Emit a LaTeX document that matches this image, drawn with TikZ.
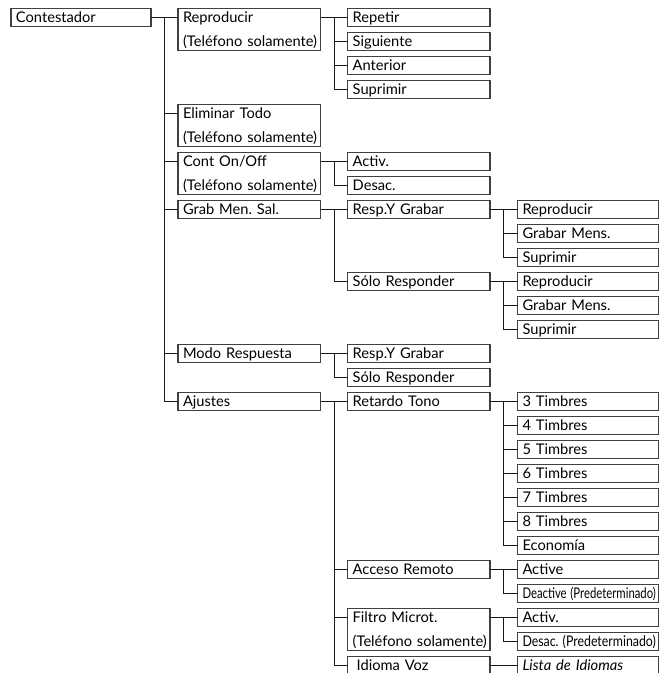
\documentclass[tikz,border=0pt]{standalone}
\usepackage{fontspec}
\usepackage{graphicx}
\setmainfont{Lato}[WordSpace=0.6]
\usetikzlibrary{calc}
\frenchspacing
\newcommand\st{\rule[-3.3pt]{0pt}{13.8pt}}
\newcommand\fitw[1]{\resizebox{100pt}{\height}{#1}}
\tikzset{
  box/.style={draw=black!75, line width=0.8pt, inner xsep=3.75pt, inner ysep=0pt,
    outer sep=0pt, anchor=north west, align=left,
    font=\fontsize{11pt}{18pt}\selectfont, minimum height=13.8pt},
  c0/.style={box, text width=97.5pt},
  c1/.style={box, text width=99.5pt},
  c2/.style={box, text width=99.2pt},
  c3/.style={box, text width=98.4pt},
  two/.style={minimum height=31.8pt},
  wire/.style={line width=0.75pt, black!90},
}
\newcommand\branch[3]{%
  \draw[wire] ($(#1.north east)+(0,9.2)$) -- ($(#2.north west)+(0,9.2)$);
  \foreach \c in {#3}{\draw[wire] ($(#1.north east)+(13.5,9.2)$) |- ($(\c.north west)+(0,9.2)$);}%
}
\begin{document}
\begin{tikzpicture}[x=0.75pt, y=-0.75pt]
\useasboundingbox (0,0) rectangle (660,673);
\clip (0,0) rectangle (660,673);
% column 0
\node[c0] (n0) at (11,8.3) {\st Contestador};
% column 1
\node[c1,two] (a1) at (178,8.3)   {\st Reproducir\\\st \mbox{(Teléfono solamente)}};
\node[c1,two] (a2) at (178,104.3) {\st Eliminar Todo\\\st \mbox{(Teléfono solamente)}};
\node[c1,two] (a3) at (178,152.3) {\st Cont On/Off\\\st \mbox{(Teléfono solamente)}};
\node[c1] (a4) at (178,200.3) {\st Grab Men. Sal.};
\node[c1] (a5) at (178,344.3) {\st Modo Respuesta};
\node[c1] (a6) at (178,392.3) {\st Ajustes};
% column 2
\node[c2] (b1) at (347.7,8.3)  {\st Repetir};
\node[c2] (b2) at (347.7,32.3) {\st Siguiente};
\node[c2] (b3) at (347.7,56.3) {\st Anterior};
\node[c2] (b4) at (347.7,80.3) {\st Suprimir};
\node[c2] (b5) at (347.7,152.3) {\st Activ.};
\node[c2] (b6) at (347.7,176.3) {\st Desac.};
\node[c2] (b7) at (347.7,200.3) {\st Resp.Y Grabar};
\node[c2] (b8) at (347.7,272.3) {\st Sólo Responder};
\node[c2] (b9) at (347.7,344.3) {\st Resp.Y Grabar};
\node[c2] (b10) at (347.7,368.3) {\st Sólo Responder};
\node[c2] (b11) at (347.7,392.3) {\st Retardo Tono};
\node[c2] (b12) at (347.7,560.3) {\st Acceso Remoto};
\node[c2,two] (b13) at (347.7,608.3) {\st Filtro Microt.\\\st \mbox{(Teléfono solamente)}};
\node[c2] (b14) at (347.7,656.3) {\st\hspace{3pt}Idioma Voz};
% column 3
\node[c3] (d1) at (517.5,200.3) {\st Reproducir};
\node[c3] (d2) at (517.5,224.3) {\st Grabar Mens.};
\node[c3] (d3) at (517.5,248.3) {\st Suprimir};
\node[c3] (d4) at (517.5,272.3) {\st Reproducir};
\node[c3] (d5) at (517.5,296.3) {\st Grabar Mens.};
\node[c3] (d6) at (517.5,320.3) {\st Suprimir};
\node[c3] (t3) at (517.5,392.3) {\st 3 Timbres};
\node[c3] (t4) at (517.5,416.3) {\st 4 Timbres};
\node[c3] (t5) at (517.5,440.3) {\st 5 Timbres};
\node[c3] (t6) at (517.5,464.3) {\st 6 Timbres};
\node[c3] (t7) at (517.5,488.3) {\st 7 Timbres};
\node[c3] (t8) at (517.5,512.3) {\st 8 Timbres};
\node[c3] (d7) at (517.5,536.3) {\st Economía};
\node[c3] (d8) at (517.5,560.3) {\st Active};
\node[c3] (d9) at (517.5,584.3) {\st \fitw{Deactive (Predeterminado)}};
\node[c3] (d10) at (517.5,608.3) {\st Activ.};
\node[c3] (d11) at (517.5,632.3) {\st \fitw{Desac. (Predeterminado)}};
\node[c3] (d12) at (517.5,656.3) {\st\itshape Lista de Idiomas};
% connectors
\branch{n0}{a1}{a2,a3,a4,a5,a6}
\branch{a1}{b1}{b2,b3,b4}
\branch{a3}{b5}{b6}
\branch{a4}{b7}{b8}
\branch{b7}{d1}{d2,d3}
\branch{b8}{d4}{d5,d6}
\branch{a5}{b9}{b10}
\branch{a6}{b11}{b12,b13,b14}
\branch{b11}{t3}{t4,t5,t6,t7,t8,d7}
\branch{b12}{d8}{d9}
\branch{b13}{d10}{d11}
\branch{b14}{d12}{}
\end{tikzpicture}
\end{document}
